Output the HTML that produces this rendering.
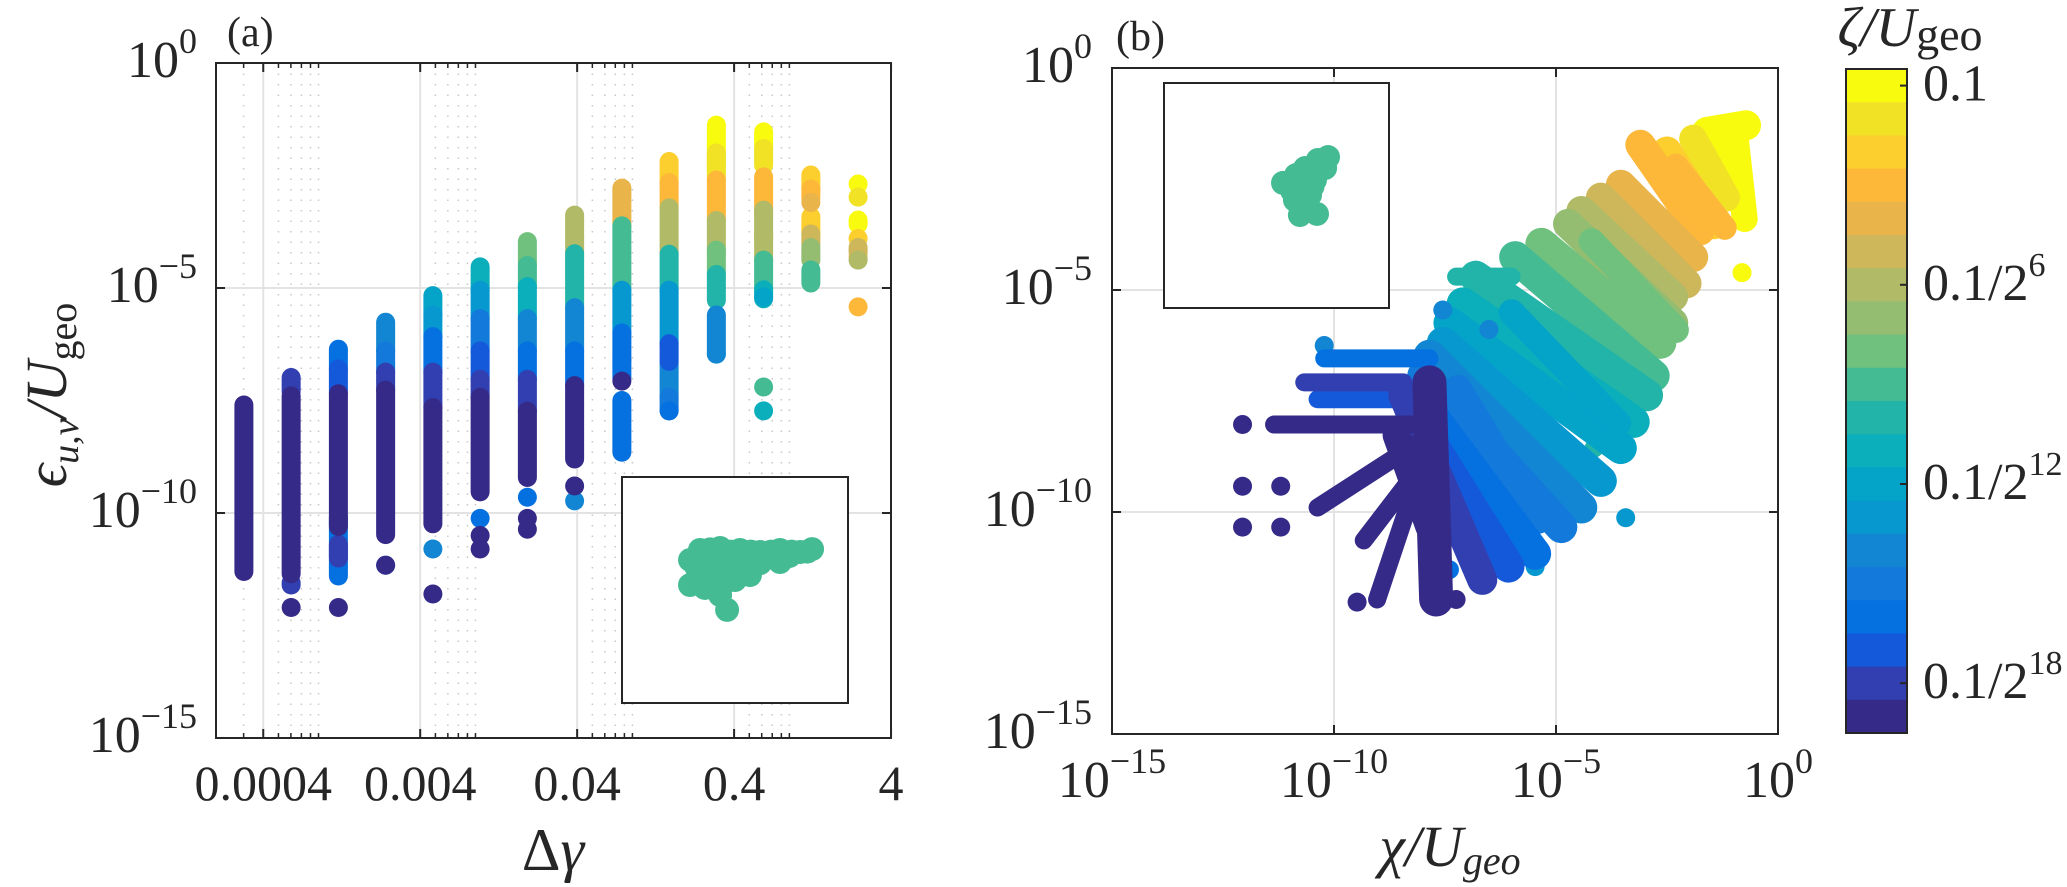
<!DOCTYPE html>
<html><head><meta charset="utf-8"><style>
html,body{margin:0;padding:0;background:#fff;}
svg{display:block;font-family:"Liberation Serif","DejaVu Serif",serif;}
text{font-family:"Liberation Serif","DejaVu Serif",serif;}
</style></head><body>
<svg id="fig" width="2067" height="887" viewBox="0 0 2067 887" xmlns="http://www.w3.org/2000/svg" font-family="Liberation Serif, DejaVu Serif, serif">
<g id="gridA"></g>
<g id="gridB"></g>
<g id="marksA"></g>
<g id="marksB"></g>
<g id="frames"></g>
<g id="cbar" font-family="Liberation Serif, DejaVu Serif, serif"></g>
<g id="labels" fill="#262626" font-family="Liberation Serif, DejaVu Serif, serif">
  <text x="227" y="46" font-size="42">(a)</text>
  <text x="1116" y="50" font-size="42">(b)</text>
  <text x="553" y="870" font-size="60" text-anchor="middle">Δ<tspan font-style="italic">γ</tspan></text>
  <text x="1450" y="866" font-size="58" text-anchor="middle" font-style="italic">χ/U<tspan font-size="40" dy="8">geo</tspan></text>
  <text transform="translate(66,395) rotate(-90)" font-size="58" text-anchor="middle"><tspan font-style="italic">ϵ</tspan><tspan font-size="38" dy="12" font-style="italic">u,v</tspan><tspan dy="-12" font-style="italic">/U</tspan><tspan font-size="40" dy="10">geo</tspan></text>
  <text x="1910" y="46" font-size="56" text-anchor="middle"><tspan font-style="italic">ζ/U</tspan><tspan font-size="46" dy="4">geo</tspan></text>
</g>
</svg>
<script>
// ---- data ----
const levelColors = ['#f9fb0e','#f1e226','#fcce2e','#fdb83a','#e9b44a','#cdb75a','#b1ba66','#94bd72','#6fc17d','#45bb93','#22b4a8','#0baebb','#04a4c9','#0898d0','#1286d3','#1379da','#0570e0','#1559db','#313fb0','#352a87'];
const cbarTickLevels = [0, 6, 12, 18];
const cbarTickLabels = ['0.1', '0.1/2', '0.1/2', '0.1/2'];
const cbarTickPowers = ['', '6', '12', '18'];

// panel (a): column index -> delta gamma
const colDeltaGamma = [0,1,2,3,4,5,6,7,8,9,10,11,12,13].map(i => 2.467 / Math.pow(2, 13 - i));
// segments: [column, level, top exponent, bottom exponent]
const segColumn = [0,1,1,1,1, 2,2,2,2,2,2,2, 3,3,3,3,3,3, 4,4,4,4,4,4,4, 5,5,5,5,5,5,5,5,5, 6,6,6,6,6,6,6,6,6,6, 7,7,7,7,7,7,7, 8,8,8,8,8,8,8, 9,9,9,9,9,9,9,9,9, 10,10,10,10,10,10,10,10, 11,11,11,11,11,11,11,11,11,11, 12,12,12,12,12,12,12, 13,13,13,13,13,13,13,13];
const segLevel  = [19,18,19,18,19, 16,17,19,16,18,16,19, 14,15,18,19,16,19, 12,13,16,18,19,14,19, 11,13,15,17,18,19,16,19,19, 8,9,11,14,16,18,19,16,19,19, 6,10,14,16,19,19,14, 4,9,13,16,15,19,16, 2,3,6,10,13,17,14,15,16, 0,1,3,6,8,10,14,13, 0,1,3,6,9,11,9,11,5,12, 2,3,2,5,7,9,4, 0,1,0,2,5,6,3,4];
const segTop    = [-7.6,-6.99,-7.4,-11.55,-12.1, -6.36,-6.8,-7.35,-10.1,-10.7,-11.2,-12.1, -5.76,-6.4,-6.87,-7.27,-11.16,-11.16, -5.17,-5.6,-6.08,-6.87,-7.66,-10.8,-11.8, -4.53,-5.05,-5.68,-6.4,-7.03,-7.43,-10.12,-10.8,-10.5, -3.97,-4.5,-4.97,-5.68,-6.4,-7.03,-7.74,-9.65,-10.12,-10.36, -3.38,-4.24,-5.44,-6.4,-7.17,-9.4,-9.73, -2.78,-3.62,-5.05,-6.0,-6.6,-7.07,-7.5, -2.19,-2.66,-3.22,-4.25,-5.05,-6.24,-6.63,-7.43,-7.73, -1.38,-2.0,-2.6,-3.5,-4.16,-4.7,-5.6,-6.47, -1.53,-1.9,-2.53,-3.27,-4.38,-5.04,-7.2,-7.73,-3.8,-5.2, -2.49,-2.8,-3.42,-3.8,-4.1,-4.6,-3.1, -2.69,-2.98,-3.49,-3.9,-4.1,-4.38,-5.42,-4.3];
const segBot    = [-11.3,-7.3,-11.35,-11.6,-12.1, -6.8,-7.35,-10.3,-11.2,-11.0,-11.4,-12.1, -6.4,-6.87,-7.27,-10.48,-11.16,-11.16, -5.6,-6.08,-6.87,-7.66,-10.24,-10.8,-11.8, -5.05,-5.68,-6.4,-7.03,-7.43,-9.53,-10.12,-10.8,-10.5, -4.5,-4.97,-5.68,-6.4,-7.03,-7.74,-9.21,-9.65,-10.12,-10.36, -4.24,-5.44,-6.4,-7.17,-8.8,-9.4,-9.73, -3.62,-5.05,-6.0,-7.0,-6.6,-7.07,-8.65, -2.66,-3.22,-4.25,-5.05,-6.24,-6.63,-7.43,-7.73,-7.73, -2.38,-2.6,-3.49,-4.16,-4.7,-5.27,-6.47,-6.47, -1.9,-2.27,-3.27,-4.38,-5.04,-5.24,-7.2,-7.73,-3.9,-5.2, -2.8,-3.0,-3.8,-4.04,-4.38,-4.89,-3.1, -2.69,-2.98,-3.58,-3.9,-4.2,-4.38,-5.42,-4.3];

// panel (b): strokes [level, x1, y1, x2, y2, width] in log10 units
const strokeLevel = [0,0,0,1,2,3,4,5,6,7,8,9,10,10,11,12,13,14,15,16,16,17,17,18,18,19,19,19,19,19,19, 3,8,12,15];
const strokeX1 = [-1.6,-1.46,-0.95,-1.91,-2.5,-3.1,-3.54,-3.99,-4.43,-4.73,-5.33,-5.92,-6.81,-7.25,-7.1,-7.4,-7.55,-7.85,-7.99,-8.14,-10.22,-8.29,-10.37,-8.44,-10.67,-7.85,-11.35,-7.85,-7.85,-8.29,-8.59, -2.3,-4.2,-6.0,-7.2];
const strokeY1 = [-1.44,-1.88,-1.6,-1.59,-1.88,-1.73,-2.63,-2.92,-3.22,-3.51,-3.96,-4.26,-4.7,-4.7,-5.3,-5.74,-6.19,-6.48,-6.93,-7.37,-6.54,-7.67,-7.46,-7.37,-7.08,-7.08,-8.03,-8.27,-8.71,-9.75,-8.27, -2.2,-3.9,-5.5,-7.2];
const strokeX2 = [-0.72,-0.87,-0.75,-1.17,-1.46,-1.76,-1.91,-2.06,-2.36,-2.36,-2.65,-2.8,-2.95,-6.0,-3.25,-3.54,-3.99,-4.43,-4.88,-5.47,-7.85,-6.07,-8.29,-6.66,-8.44,-7.7,-7.85,-10.37,-9.33,-9.03,-7.85, -1.2,-2.3,-3.6,-5.4];
const strokeY2 = [-1.29,-2.63,-3.4,-2.92,-3.52,-3.66,-4.26,-4.85,-5.15,-5.74,-6.19,-6.93,-7.37,-4.7,-7.97,-8.56,-9.3,-9.9,-10.34,-10.94,-6.54,-11.23,-7.46,-11.53,-7.08,-11.97,-8.03,-9.9,-10.64,-11.97,-10.34, -3.6,-5.9,-8.0,-10.2];
const strokeWidth = [30,28,26,28,30,30,30,30,30,30,32,32,32,18,32,32,32,32,32,32,18,32,18,30,18,34,18,18,18,18,28, 24,26,26,26];
// panel (b): isolated points
const dotLevel = [0,7,9,10,13,13,14,14,14,16,19,19,19,19,19,19,19];
const dotX = [-0.81,-2.8,-3.6,-4.14,-5.47,-3.43,-7.55,-6.51,-10.22,-7.4,-12.06,-12.06,-11.2,-12.06,-11.2,-9.48,-7.25];
const dotY = [-4.61,-6.13,-7.9,-8.56,-11.23,-10.13,-5.45,-5.89,-6.25,-11.3,-8.03,-9.42,-9.42,-10.34,-10.34,-12.03,-11.97];

// insets: points in unit box coordinates
const insetAU = [.345,.434,.522,.611,.699,.788,.841,.301,.345,.434,.522,.611,.699,.301,.367,.434,.465,.389,.5,.566,.39,.48,.57,.66,.75,.82,.33,.36,.41,.45,.53,.62,.74];
const insetAV = [.323,.314,.323,.332,.323,.332,.319,.367,.42,.403,.394,.381,.376,.478,.491,.522,.588,.447,.456,.434,.32,.33,.33,.33,.33,.33,.40,.46,.38,.47,.36,.35,.35];
const insetBU = [.729,.684,.627,.587,.56,.529,.604,.671,.716,.582,.627,.68,.604,.649,.64,.66,.61,.63,.7,.57];
const insetBV = [.329,.342,.378,.409,.453,.444,.476,.431,.378,.52,.542,.582,.587,.498,.4,.46,.44,.5,.36,.48];

// ---- scales ----
const NS = 'http://www.w3.org/2000/svg';
const xa = v => 216 + (Math.log10(v) - Math.log10(2e-4)) * 156.95;
const ya = e => 63 - e * 45;
const xb = e => 1112 + (e + 15) * 44.4;
const yb = e => 68 - e * 44.4;
function mk(tag, attrs, parent) {
  const el = document.createElementNS(NS, tag);
  for (const k in attrs) el.setAttribute(k, attrs[k]);
  parent.appendChild(el);
  return el;
}
const gridA = document.getElementById('gridA');
const gridB = document.getElementById('gridB');
const marksA = document.getElementById('marksA');
const marksB = document.getElementById('marksB');
const frames = document.getElementById('frames');
const cbar = document.getElementById('cbar');
const labels = document.getElementById('labels');

// ---- panel (a) grid & ticks ----
const aMajor = [4e-4, 4e-3, 4e-2, 4e-1, 4];
const aMinor = [];
[1e-4, 1e-3, 1e-2, 1e-1].forEach(d => { if (d === 1e-4) aMinor.push(3 * d); [5,6,7,8,9].forEach(m => aMinor.push(m * d)); });
aMinor.forEach(v => {
  const x = xa(v);
  const l = mk('line', {x1:x, x2:x, y1:63, y2:738, stroke:'#c8c8c8', 'stroke-width':1.5, 'stroke-dasharray':'1.5 9'}, gridA);
  
  
  mk('line', {x1:x, x2:x, y1:63, y2:68, stroke:'#262626', 'stroke-width':1.5}, frames);
  mk('line', {x1:x, x2:x, y1:738, y2:733, stroke:'#262626', 'stroke-width':1.5}, frames);
});
aMajor.forEach((v, i) => {
  const x = xa(v);
  if (i < 4) {
    const l = mk('line', {x1:x, x2:x, y1:63, y2:738, stroke:'#e3e3e3', 'stroke-width':2}, gridA);
    
    
  }
  mk('line', {x1:x, x2:x, y1:63, y2:72, stroke:'#262626', 'stroke-width':2}, frames);
  mk('line', {x1:x, x2:x, y1:738, y2:729, stroke:'#262626', 'stroke-width':2}, frames);
  const t = mk('text', {x:x, y:800, 'font-size':50, 'text-anchor':'middle'}, labels);
  t.textContent = String(v);
  
  
});
const yTickExp = [0, -5, -10, -15];
yTickExp.forEach(e => {
  const y = ya(e);
  if (e !== 0 && e !== -15) {
    const l = mk('line', {x1:216, x2:891, y1:y, y2:y, stroke:'#e3e3e3', 'stroke-width':2}, gridA);
    
    
    const l2 = mk('line', {x1:1112, x2:1778, y1:yb(e), y2:yb(e), stroke:'#e3e3e3', 'stroke-width':2}, gridB);
    
    
    const l3 = mk('line', {x1:xb(e), x2:xb(e), y1:68, y2:734, stroke:'#e3e3e3', 'stroke-width':2}, gridB);
    
    
  }
  mk('line', {x1:216, x2:225, y1:y, y2:y, stroke:'#262626', 'stroke-width':2}, frames);
  mk('line', {x1:891, x2:882, y1:y, y2:y, stroke:'#262626', 'stroke-width':2}, frames);
  mk('line', {x1:1112, x2:1121, y1:yb(e), y2:yb(e), stroke:'#262626', 'stroke-width':2}, frames);
  mk('line', {x1:1778, x2:1769, y1:yb(e), y2:yb(e), stroke:'#262626', 'stroke-width':2}, frames);
  mk('line', {x1:xb(e), x2:xb(e), y1:734, y2:725, stroke:'#262626', 'stroke-width':2}, frames);
  mk('line', {x1:xb(e), x2:xb(e), y1:68, y2:77, stroke:'#262626', 'stroke-width':2}, frames);
  const sup = e === 0 ? '0' : '\u2212' + (-e);
  const ta = mk('text', {x:197, y:y + 14, 'font-size':52, 'text-anchor':'end'}, labels);
  ta.innerHTML = '10<tspan font-size="36" dy="-24">' + sup + '</tspan>';
  
  
  const tb = mk('text', {x:1092, y:yb(e) + 14, 'font-size':52, 'text-anchor':'end'}, labels);
  tb.innerHTML = '10<tspan font-size="36" dy="-24">' + sup + '</tspan>';
  
  
  const tx = mk('text', {x:xb(e), y:797, 'font-size':52, 'text-anchor':'middle'}, labels);
  tx.innerHTML = '10<tspan font-size="36" dy="-24">' + sup + '</tspan>';
  
  
});

// ---- panel (a) marks ----
const orderA = segLevel.map((l, i) => i).sort((p, q) => segLevel[p] - segLevel[q]);
orderA.forEach(i => {
  const x = xa(colDeltaGamma[segColumn[i]]);
  const l = mk('line', {x1:x, x2:x, y1:ya(segTop[i]), y2:ya(segBot[i]), stroke:levelColors[segLevel[i]], 'stroke-width':19, 'stroke-linecap':'round'}, marksA);
  
  
});

// ---- panel (b) marks ----
const orderB = strokeLevel.map((l, i) => i).sort((p, q) => strokeLevel[p] - strokeLevel[q]);
const dotOrder = dotLevel.map((l, i) => i);
let di = 0;
orderB.forEach(i => {
  while (di < dotOrder.length && dotLevel[dotOrder[di]] < strokeLevel[i]) {
    const k = dotOrder[di++];
    const c = mk('circle', {cx:xb(dotX[k]), cy:yb(dotY[k]), r:9.5, fill:levelColors[dotLevel[k]]}, marksB);
    
    
  }
  const l = mk('line', {x1:xb(strokeX1[i]), y1:yb(strokeY1[i]), x2:xb(strokeX2[i]), y2:yb(strokeY2[i]), stroke:levelColors[strokeLevel[i]], 'stroke-width':strokeWidth[i], 'stroke-linecap':'round'}, marksB);
  
  
});
while (di < dotOrder.length) {
  const k = dotOrder[di++];
  const c = mk('circle', {cx:xb(dotX[k]), cy:yb(dotY[k]), r:9.5, fill:levelColors[dotLevel[k]]}, marksB);
  
  
}

// ---- frames ----
const fa = mk('rect', {x:216, y:63, width:675, height:675, fill:'none', stroke:'#262626', 'stroke-width':2}, frames);


const fb = mk('rect', {x:1112, y:68, width:666, height:666, fill:'none', stroke:'#262626', 'stroke-width':2}, frames);



// ---- insets ----
function inset(x0, y0, s, U, V, name) {
  const g = mk('g', {}, frames);
  
  
  mk('rect', {x:x0, y:y0, width:s, height:s, fill:'#fff', stroke:'#262626', 'stroke-width':2}, g);
  U.forEach((u, i) => {
    const c = mk('circle', {cx:x0 + u * s, cy:y0 + V[i] * s, r:12, fill:levelColors[9]}, g);
    
    
  });
}
inset(622, 477, 226, insetAU, insetAV, 'inset-a');
inset(1164, 83, 225, insetBU, insetBV, 'inset-b');

// ---- colorbar ----
const cbX = 1846, cbY = 69, cbW = 61, cbH = 664, band = cbH / levelColors.length;
levelColors.forEach((c, i) => {
  const r = mk('rect', {x:cbX, y:cbY + i * band, width:cbW, height:band + 0.5, fill:c}, cbar);
  
  
});
mk('rect', {x:cbX, y:cbY, width:cbW, height:cbH, fill:'none', stroke:'#262626', 'stroke-width':2}, cbar);
cbarTickLevels.forEach((lv, i) => {
  const y = cbY + (lv + 0.5) * band;
  mk('line', {x1:cbX + cbW, x2:cbX + cbW - 7, y1:y, y2:y, stroke:'#262626', 'stroke-width':2}, cbar);
  const t = mk('text', {x:1923, y:y + 15, 'font-size':52, fill:'#262626'}, cbar);
  t.innerHTML = cbarTickLabels[i] + (cbarTickPowers[i] ? '<tspan font-size="34" dy="-24">' + cbarTickPowers[i] + '</tspan>' : '');
  
  
});
</script>
</body></html>
